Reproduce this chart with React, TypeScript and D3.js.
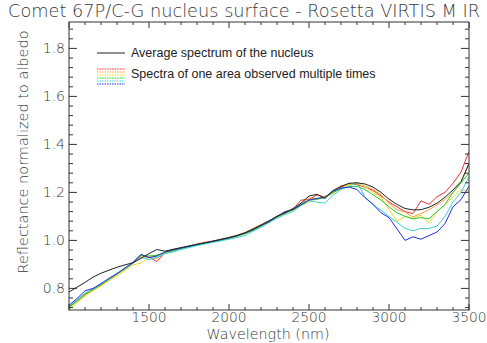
import React from 'react';
import * as d3 from 'd3';

// wavelength grid (nm)
const wavelengths = [
  1000, 1050, 1100, 1150, 1200, 1250, 1300, 1350, 1400, 1450,
  1500, 1550, 1600, 1650, 1700, 1750, 1800, 1850, 1900, 1950,
  2000, 2050, 2100, 2150, 2200, 2250, 2300, 2350, 2400, 2450,
  2500, 2550, 2600, 2650, 2700, 2750, 2800, 2850, 2900, 2950,
  3000, 3050, 3100, 3150, 3200, 3250, 3300, 3350, 3400, 3450, 3500,
];

const average = [
  0.785, 0.805, 0.825, 0.847, 0.863, 0.876, 0.888, 0.898, 0.907, 0.925,
  0.945, 0.962, 0.955, 0.963, 0.970, 0.977, 0.984, 0.990, 0.997, 1.004,
  1.012, 1.020, 1.032, 1.047, 1.064, 1.082, 1.100, 1.115, 1.132, 1.155,
  1.185, 1.192, 1.175, 1.208, 1.225, 1.238, 1.240, 1.235, 1.222, 1.200,
  1.172, 1.150, 1.133, 1.127, 1.128, 1.138, 1.155, 1.180, 1.210, 1.245, 1.320,
];

const red = [
  0.725, 0.750, 0.778, 0.795, 0.815, 0.838, 0.860, 0.883, 0.908, 0.940,
  0.930, 0.912, 0.950, 0.958, 0.966, 0.975, 0.982, 0.990, 0.995, 1.003,
  1.010, 1.018, 1.030, 1.044, 1.062, 1.078, 1.096, 1.118, 1.130, 1.168,
  1.170, 1.190, 1.180, 1.200, 1.222, 1.236, 1.232, 1.222, 1.208, 1.185,
  1.160, 1.140, 1.120, 1.112, 1.165, 1.150, 1.182, 1.200, 1.238, 1.285, 1.370,
];

const orange = [
  0.720, 0.746, 0.772, 0.792, 0.812, 0.836, 0.858, 0.880, 0.904, 0.935,
  0.928, 0.925, 0.948, 0.960, 0.968, 0.976, 0.985, 0.993, 0.998, 1.006,
  1.013, 1.022, 1.033, 1.050, 1.066, 1.080, 1.102, 1.110, 1.135, 1.150,
  1.178, 1.170, 1.185, 1.195, 1.228, 1.232, 1.236, 1.226, 1.212, 1.190,
  1.155, 1.128, 1.118, 1.098, 1.112, 1.128, 1.148, 1.170, 1.200, 1.240, 1.320,
];

const yellow = [
  0.712, 0.740, 0.768, 0.790, 0.810, 0.832, 0.852, 0.875, 0.898, 0.905,
  0.930, 0.940, 0.946, 0.955, 0.965, 0.974, 0.982, 0.989, 0.996, 1.002,
  1.010, 1.016, 1.028, 1.040, 1.060, 1.075, 1.095, 1.112, 1.126, 1.145,
  1.160, 1.175, 1.180, 1.198, 1.218, 1.232, 1.238, 1.224, 1.200, 1.180,
  1.130, 1.080, 1.100, 1.092, 1.105, 1.072, 1.120, 1.150, 1.180, 1.212, 1.205,
];

const green = [
  0.720, 0.748, 0.775, 0.796, 0.816, 0.838, 0.860, 0.882, 0.905, 0.938,
  0.935, 0.938, 0.950, 0.957, 0.966, 0.973, 0.981, 0.988, 0.996, 1.000,
  1.008, 1.018, 1.028, 1.042, 1.060, 1.076, 1.098, 1.112, 1.128, 1.150,
  1.168, 1.172, 1.178, 1.200, 1.215, 1.225, 1.225, 1.212, 1.190, 1.168,
  1.140, 1.115, 1.100, 1.090, 1.095, 1.090, 1.120, 1.150, 1.200, 1.240, 1.280,
];

const cyan = [
  0.725, 0.752, 0.780, 0.798, 0.818, 0.840, 0.862, 0.884, 0.906, 0.930,
  0.920, 0.930, 0.945, 0.952, 0.962, 0.970, 0.978, 0.985, 0.992, 0.998,
  1.005, 1.012, 1.020, 1.038, 1.055, 1.074, 1.092, 1.108, 1.120, 1.145,
  1.165, 1.160, 1.155, 1.188, 1.212, 1.225, 1.242, 1.180, 1.150, 1.125,
  1.100, 1.075, 1.050, 1.040, 1.050, 1.050, 1.060, 1.100, 1.160, 1.200, 1.265,
];

const blue = [
  0.730, 0.758, 0.790, 0.800, 0.820, 0.842, 0.862, 0.885, 0.908, 0.942,
  0.928, 0.935, 0.952, 0.960, 0.968, 0.975, 0.983, 0.990, 0.996, 1.004,
  1.010, 1.020, 1.030, 1.045, 1.062, 1.078, 1.100, 1.120, 1.128, 1.148,
  1.168, 1.175, 1.180, 1.205, 1.218, 1.222, 1.212, 1.178, 1.150, 1.115,
  1.095, 1.048, 1.000, 1.015, 1.005, 1.020, 1.035, 1.070, 1.140, 1.170, 1.225,
];

const xTicks = [1500, 2000, 2500, 3000, 3500];
const yTicks = [0.8, 1.0, 1.2, 1.4, 1.6, 1.8];

const spectra = [
  { color: '#e8303a', values: red },
  { color: '#f4a040', values: orange },
  { color: '#e6e020', values: yellow },
  { color: '#2ec82e', values: green },
  { color: '#3cd4d4', values: cyan },
  { color: '#2030e0', values: blue },
];

const W = 487;
const H = 343;
const left = 69, right = 469, top = 22, bottom = 310;

const textColor = '#383838';
const axisColor = '#333';

export default function App() {
  const x = d3.scaleLinear().domain([1000, 3500]).range([left, right]);
  const y = d3.scaleLinear().domain([0.71, 1.91]).range([bottom, top]);

  const line = d3.line<number>()
    .x((d, i) => x(wavelengths[i]))
    .y((d) => y(d));

  const xMinor = d3.range(1100, 3500, 100).filter((v) => v % 500 !== 0);
  const xMajor = [1000, ...xTicks];
  const yMinor = d3.range(0.72, 1.9, 0.04).filter((v) => Math.abs(v * 5 - Math.round(v * 5)) > 1e-6);

  return (
    <svg width={W} height={H} style={{ position: 'absolute', left: 0, top: 0, background: '#fff' }}
      fontFamily="'DejaVu Sans', sans-serif" fontWeight={300}>
      <text x={244} y={17} textAnchor="middle" fontSize={17.5} fill={textColor}
        textLength={472} lengthAdjust="spacingAndGlyphs">
        Comet 67P/C-G nucleus surface - Rosetta VIRTIS M IR
      </text>

      <defs>
        <clipPath id="plot">
          <rect x={left} y={top} width={right - left} height={bottom - top} />
        </clipPath>
      </defs>

      <g clipPath="url(#plot)" fill="none" strokeWidth={1} strokeLinejoin="round">
        {spectra.map((s) => (
          <path key={s.color} d={line(s.values) ?? ''} stroke={s.color} />
        ))}
        <path d={line(average) ?? ''} stroke="#222" />
      </g>

      {/* frame */}
      <rect x={left} y={top} width={right - left} height={bottom - top} fill="none" stroke={axisColor} strokeWidth={1} />

      {/* ticks on all four sides, pointing inward */}
      <g stroke={axisColor} strokeWidth={1}>
        {xMajor.map((v) => (
          <g key={'xM' + v}>
            <line x1={x(v)} x2={x(v)} y1={bottom} y2={bottom - 6} />
            <line x1={x(v)} x2={x(v)} y1={top} y2={top + 6} />
          </g>
        ))}
        {xMinor.map((v) => (
          <g key={'xm' + v}>
            <line x1={x(v)} x2={x(v)} y1={bottom} y2={bottom - 3} />
            <line x1={x(v)} x2={x(v)} y1={top} y2={top + 3} />
          </g>
        ))}
        {yTicks.map((v) => (
          <g key={'yM' + v}>
            <line x1={left} x2={left + 8} y1={y(v)} y2={y(v)} />
            <line x1={right} x2={right - 8} y1={y(v)} y2={y(v)} />
          </g>
        ))}
        {yMinor.map((v) => (
          <g key={'ym' + v}>
            <line x1={left} x2={left + 4} y1={y(v)} y2={y(v)} />
            <line x1={right} x2={right - 4} y1={y(v)} y2={y(v)} />
          </g>
        ))}
      </g>

      {xTicks.map((v) => (
        <text key={'xl' + v} x={x(v)} y={322} textAnchor="middle" fontSize={13.5} fill={textColor}
          textLength={35} lengthAdjust="spacingAndGlyphs">
          {v}
        </text>
      ))}
      {yTicks.map((v) => (
        <text key={'yl' + v} x={65} y={y(v) + 5} textAnchor="end" fontSize={14} fill={textColor}>
          {v.toFixed(1)}
        </text>
      ))}

      <text x={268} y={338.5} textAnchor="middle" fontSize={13.5} fill={textColor}
        textLength={123} lengthAdjust="spacingAndGlyphs">
        Wavelength (nm)
      </text>
      <text transform="translate(28,152) rotate(-90)" textAnchor="middle" fontSize={13.5} fill={textColor}
        textLength={243} lengthAdjust="spacingAndGlyphs">
        Reflectance normalized to albedo
      </text>

      {/* legend */}
      <g fontFamily="'Liberation Sans', Arial, sans-serif" fontWeight={400} fontSize={12.5} fill="#222">
        <line x1={97} x2={125} y1={53} y2={53} stroke="#222" strokeWidth={1} />
        <text x={131} y={57}>Average spectrum of the nucleus</text>
        {spectra.map((s, i) => (
          <line key={'lg' + i} x1={97} x2={125} y1={69 + i * 3} y2={69 + i * 3}
            stroke={s.color} strokeWidth={1} strokeDasharray="1.5,1" />
        ))}
        <text x={131} y={78}>Spectra of one area observed multiple times</text>
      </g>
    </svg>
  );
}
